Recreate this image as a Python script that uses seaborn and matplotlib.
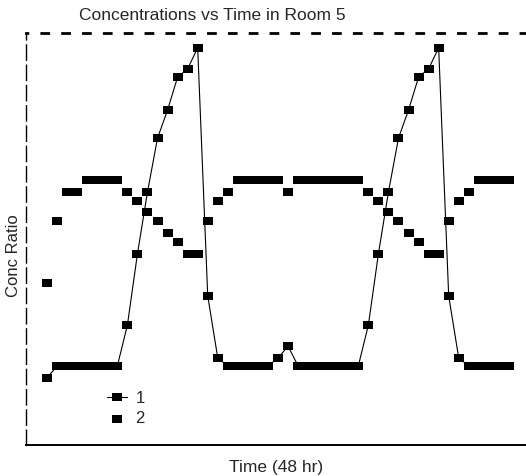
import matplotlib
matplotlib.use("Agg")
import matplotlib.pyplot as plt
import seaborn as sns
import pandas as pd

# hourly samples over the 48 hr run
hours = list(range(47))

conc_1 = [0.163, 0.192, 0.192, 0.192, 0.192, 0.192, 0.192, 0.192,
          0.291, 0.464, 0.614, 0.745, 0.813, 0.893, 0.913, 0.964,
          0.362, 0.211, 0.192, 0.192, 0.192, 0.192, 0.192, 0.211,
          0.240, 0.192, 0.192, 0.192, 0.192, 0.192, 0.192, 0.192,
          0.291, 0.464, 0.614, 0.745, 0.813, 0.893, 0.913, 0.964,
          0.362, 0.211, 0.192, 0.192, 0.192, 0.192, 0.192]

conc_2 = [0.393, 0.544, 0.614, 0.614, 0.643, 0.643, 0.643, 0.643,
          0.614, 0.592, 0.566, 0.544, 0.515, 0.493, 0.464, 0.464,
          0.544, 0.592, 0.614, 0.643, 0.643, 0.643, 0.643, 0.643,
          0.614, 0.643, 0.643, 0.643, 0.643, 0.643, 0.643, 0.643,
          0.614, 0.592, 0.566, 0.544, 0.515, 0.493, 0.464, 0.464,
          0.544, 0.592, 0.614, 0.643, 0.643, 0.643, 0.643]

df = pd.DataFrame({"hour": hours, "c1": conc_1, "c2": conc_2})

# slightly flat rectangle, like the plotter's square blobs
rect = [(-1, -0.85), (1, -0.85), (1, 0.85), (-1, 0.85), (-1, -0.85)]

sns.set_style("white")
plt.rcParams["font.family"] = ["Liberation Sans", "DejaVu Sans"]

fig = plt.figure(figsize=(5.26, 4.76), dpi=100)
ax = fig.add_axes([26 / 526, 31 / 476, 500 / 526, 412 / 476])

sns.lineplot(
    data=df, x="hour", y="c1", ax=ax, color="black", linewidth=0.8,
    marker=rect, markersize=7.4, markeredgewidth=0, label="1",
)
sns.scatterplot(
    data=df, x="hour", y="c2", ax=ax, color="black", marker=rect,
    s=55, linewidth=0, label="2", zorder=3,
)

ax.set_xlim(-2.1, 47.7)
ax.set_ylim(0, 1)
ax.set_xticks([])
ax.set_yticks([])

# axes frame: dashed left and top, solid bottom, no right
ax.spines["right"].set_visible(False)
ax.spines["bottom"].set_linewidth(1.4)
ax.spines["bottom"].set_color("black")
ax.spines["left"].set_color("black")
ax.spines["left"].set_linewidth(1.0)
ax.spines["left"].set_linestyle((0, (11, 3.6)))
ax.spines["top"].set_color("black")
ax.spines["top"].set_linewidth(2.0)
ax.spines["top"].set_linestyle((2, (2.5, 5)))

ax.set_xlabel("Time (48 hr)", fontsize=12.5, labelpad=11)
ax.set_ylabel("Conc Ratio", fontsize=12)
ax.yaxis.set_label_coords(-0.01, 0.46)

fig.text(0.403, 0.968, "Concentrations vs Time in Room 5",
         ha="center", va="center", fontsize=12.5)

ax.legend(
    loc="center", bbox_to_anchor=(0.2, 0.088), frameon=False,
    fontsize=12, handlelength=1.2, handletextpad=0.5, labelspacing=0.3,
)

fig.savefig("out.png", dpi=100)
plt.close()
